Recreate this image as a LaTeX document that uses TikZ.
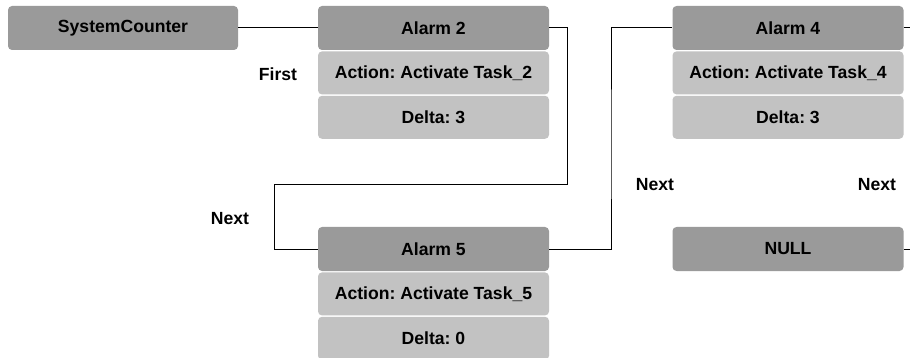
\documentclass[tikz,border=0pt]{standalone}
\usepackage{fontspec}
\setmainfont{Liberation Sans}
\usepackage{xcolor}
\usepackage{tikz}
\usetikzlibrary{positioning}
\definecolor{hdrgray}{HTML}{9A9A9A}
\definecolor{fieldgray}{HTML}{C2C2C2}
\frenchspacing
\begin{document}
\begin{tikzpicture}[x=1pt, y=-1pt, font=\fontsize{17.6}{21}\selectfont\bfseries,
    hdr/.style={fill=hdrgray, draw=none, rounded corners=4pt, minimum width=231pt, minimum height=44pt, inner sep=0pt},
    field/.style={fill=fieldgray, draw=none, rounded corners=4pt, minimum width=231pt, minimum height=43pt, inner sep=0pt},
    link/.style={draw=black, line width=1pt}]
  \useasboundingbox (0,0) rectangle (910,358);
  % counter head and the alarm records
  \node[hdr, minimum width=230pt] (sc) at (123,28) {SystemCounter};
  \node[hdr] (a2) at (433.5,28) {Alarm 2};
  \node[field, below=1pt of a2] (a2act) {Action: Activate Task\_2};
  \node[field, below=1pt of a2act] (a2dlt) {Delta: 3};
  \node[hdr] (a5) at (433.5,249) {Alarm 5};
  \node[field, below=1pt of a5] (a5act) {Action: Activate Task\_5};
  \node[field, below=1pt of a5act] (a5dlt) {Delta: 0};
  \node[hdr] (a4) at (788,28) {Alarm 4};
  \node[field, below=1pt of a4] (a4act) {Action: Activate Task\_4};
  \node[field, below=1pt of a4act] (a4dlt) {Delta: 3};
  \node[hdr] (null) at (788,249) {NULL};
  % pointer labels
  \node (first) at (278,74) {First};
  \node (next1) at (230,219) {Next};
  \node (next2) at (655,185) {Next};
  \node (next3) at (877,185) {Next};
  % pointers
  \coordinate (b1) at (567,185);
  \coordinate (b2) at (274,185);
  \coordinate (c1) at (611,150);
  \coordinate (a4end) at (910,28);
  \coordinate (nullend) at (910,249);
  \draw[link] (sc.east) -- (a2.west);
  \draw[link] (a2.east) -| (b1) -- (b2) |- (a5.west);
  \draw[link] (a5.east) -| (c1) |- (a4.west);
  \draw[link] (a4.east) -- (a4end);
  \draw[link] (null.east) -- (nullend);
\end{tikzpicture}
\end{document}
